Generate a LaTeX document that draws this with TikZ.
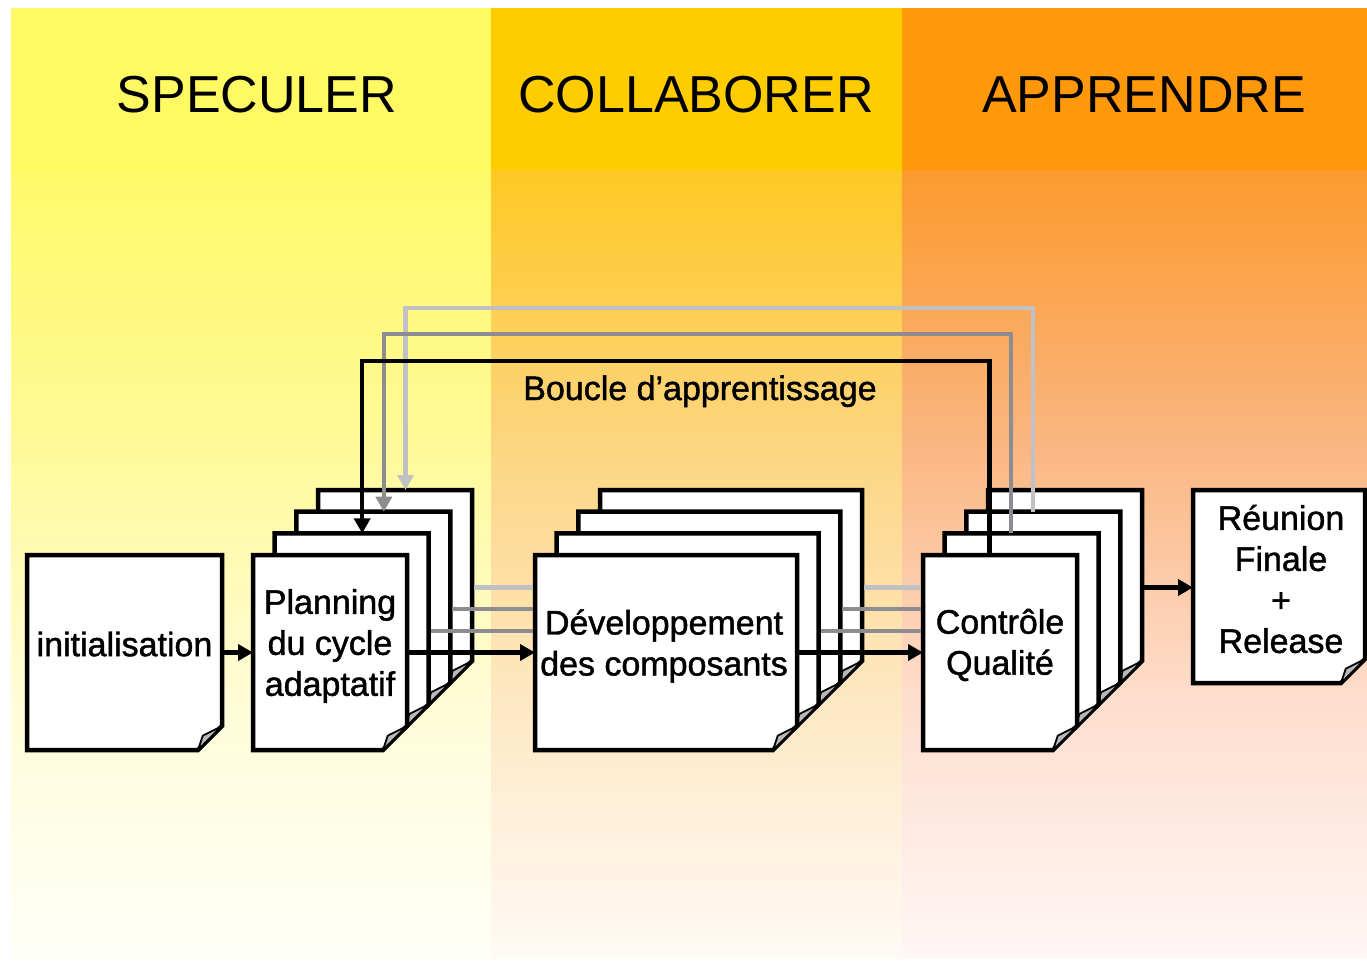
\documentclass[tikz,border=0pt]{standalone}
\usepackage{fontspec}
\setmainfont{Liberation Sans}
\newfontfamily\boxfont{Liberation Sans}[FakeBold=1.3]
\usetikzlibrary{arrows.meta,calc}
% background colours
\definecolor{L0}{RGB}{255,250,100}
\definecolor{L1}{RGB}{255,250,104}
\definecolor{L2}{RGB}{255,249,150}
\definecolor{L3}{RGB}{255,252,215}
\definecolor{L4}{RGB}{255,255,248}
\definecolor{M0}{RGB}{255,204,0}
\definecolor{M1}{RGB}{254,201,35}
\definecolor{M2}{RGB}{253,212,125}
\definecolor{M3}{RGB}{254,232,195}
\definecolor{M4}{RGB}{255,250,245}
\definecolor{R0}{RGB}{255,152,10}
\definecolor{R1}{RGB}{252,154,45}
\definecolor{R2}{RGB}{250,180,125}
\definecolor{R3}{RGB}{254,222,205}
\definecolor{R4}{RGB}{255,246,246}
\definecolor{lightg}{RGB}{192,192,197}
\definecolor{midg}{RGB}{140,140,145}
\def\fold{24}
\newcommand\docbox[5]{%
  \node[minimum width=#4pt, minimum height=#5pt, inner sep=0pt, outer sep=0pt] (#1) at ({#2},{#3}) {};
  \path[boxline] (#1.north west) -- (#1.north east) -- ($(#1.south east)+(0,-\fold)$) -- ($(#1.south east)+(-\fold,0)$) -- (#1.south west) -- cycle;
  \path[flap] ($(#1.south east)+(-\fold,0)$) -- ($(#1.south east)+(-0.8*\fold,-0.6*\fold)$) -- ($(#1.south east)+(0,-\fold)$) -- cycle;
}
\newcommand\docstack[5]{%
  \docbox{#14}{#2+65}{#3-65}{#4}{#5}
  \docbox{#13}{#2+43.33}{#3-43.33}{#4}{#5}
  \docbox{#12}{#2+21.67}{#3-21.67}{#4}{#5}
  \docbox{#11}{#2}{#3}{#4}{#5}
}
\tikzset{
  boxline/.style={draw=black, line width=4.5pt, fill=white, line join=miter},
  flap/.style={draw=black, line width=1.8pt, fill=gray!55, line join=round},
  conn/.style={line width=4.5pt},
  arr/.style={-{Triangle[length=15pt,width=16pt]}},
  boxtext/.style={font=\boxfont\fontsize{34}{41}\selectfont, align=center, inner sep=0pt},
  head/.style={font=\fontsize{52}{62}\selectfont, anchor=base, inner sep=0pt},
}
\begin{document}
\begin{tikzpicture}[x=1pt,y=-1pt]
\useasboundingbox (0,0) rectangle (1367,961);
% backgrounds
\fill[L0] (11,8) rectangle (491,171);
\shade[top color=L1,bottom color=L2] (11,170) rectangle (491,431);
\shade[top color=L2,bottom color=L3] (11,430) rectangle (491,701);
\shade[top color=L3,bottom color=L4] (11,700) rectangle (491,958);
\fill[M0] (491,8) rectangle (902,171);
\shade[top color=M1,bottom color=M2] (491,170) rectangle (902,431);
\shade[top color=M2,bottom color=M3] (491,430) rectangle (902,701);
\shade[top color=M3,bottom color=M4] (491,700) rectangle (902,958);
\fill[R0] (902,8) rectangle (1367,171);
\shade[top color=R1,bottom color=R2] (902,170) rectangle (1367,431);
\shade[top color=R2,bottom color=R3] (902,430) rectangle (1367,701);
\shade[top color=R3,bottom color=R4] (902,700) rectangle (1367,958);
% headings
\node[head] (hs) at (257,112) {SPECULER};
\node[head] (hc) at (696,112) {COLLABORER};
\node[head] (ha) at (1144,112) {APPRENDRE};
% boxes
\docbox{init}{124.5}{652.5}{195}{195}
\docstack{plan}{330}{652.5}{154}{195}
\docstack{dev}{666}{652.5}{262}{195}
\docstack{ctl}{1000}{652.5}{154}{195}
\docbox{reun}{1279}{586.5}{172}{193}
% flow connectors
\draw[conn,arr] (init.east) -- (plan1.west);
\draw[conn,arr] (plan1.east) -- (dev1.west);
\draw[conn,arr] (dev1.east) -- (ctl1.west);
\draw[conn,arr] (ctl4.east) -- (ctl4.east -| reun.west);
\draw[conn,midg,shorten <=2pt,shorten >=2pt] (plan2.east) -- (plan2.east -| dev1.west);
\draw[conn,midg,shorten <=2pt,shorten >=2pt] (plan3.east) -- (plan3.east -| dev1.west);
\draw[conn,lightg,shorten <=2pt,shorten >=2pt] (plan4.east) -- (plan4.east -| dev1.west);
\draw[conn,midg,shorten <=2pt,shorten >=2pt] (dev2.east) -- (dev2.east -| ctl1.west);
\draw[conn,midg,shorten <=2pt,shorten >=2pt] (dev3.east) -- (dev3.east -| ctl1.west);
\draw[conn,lightg,shorten <=2pt,shorten >=2pt] (dev4.east) -- (dev4.east -| ctl1.west);
% learning loops
\coordinate (hA) at (0,361);
\coordinate (hB) at (0,334);
\coordinate (hC) at (0,308);
\coordinate (sA) at ($(ctl1.north)+(-10.5,0)$);
\coordinate (eA) at ($(plan2.north)+(10.5,0)$);
\coordinate (sB) at ($(ctl2.north)+(-10.5,0)$);
\coordinate (eB) at ($(plan3.north)+(10.5,0)$);
\coordinate (sC) at ($(ctl3.north)+(-10.5,0)$);
\coordinate (eC) at ($(plan4.north)+(10.5,0)$);
\draw[conn,lightg,arr] (sC) -- (sC |- hC) -- (eC |- hC) -- (eC);
\draw[conn,midg,arr] (sB) -- (sB |- hB) -- (eB |- hB) -- (eB);
\draw[conn,black,arr] (sA) -- (sA |- hA) -- (eA |- hA) -- (eA);
% texts
\node[boxtext, anchor=base] (lbl) at (700,400) {Boucle d’apprentissage};
\node[boxtext] (tinit) at (124.5,644) {initialisation};
\node[boxtext] (tplan) at (330,646) {Planning\\du cycle\\adaptatif};
\node[boxtext] (tdev) at (664,646) {Développement\\des composants};
\node[boxtext] (tctl) at (1000,645) {Contrôle\\Qualité};
\node[boxtext] (treun) at (1281,579) {Réunion\\Finale\\+\\Release};
\end{tikzpicture}
\end{document}
